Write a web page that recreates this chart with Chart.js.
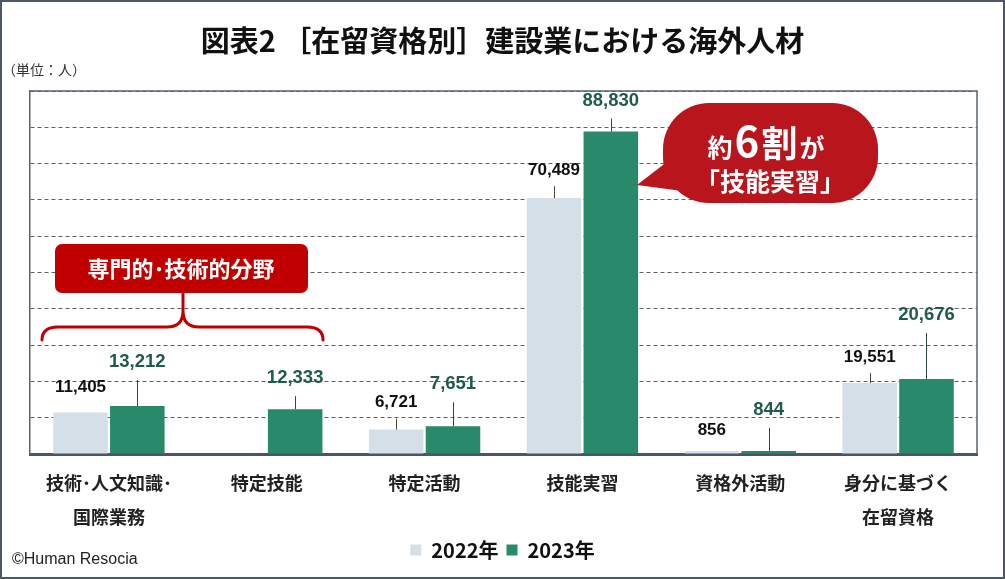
<!DOCTYPE html>
<html lang="ja">
<head>
<meta charset="utf-8">
<script src="https://cdn.jsdelivr.net/npm/chart.js@4.4.1/dist/chart.umd.min.js"></script>
<style>
  html, body { margin: 0; padding: 0; background: #fff; }
  #wrap { width: 1005px; height: 579px; position: relative; }
</style>
</head>
<body>
<div id="wrap"><canvas id="chart"></canvas></div>
<script>
// chart data
const categories = [
  ['技術･人文知識･', '国際業務'],
  '特定技能',
  '特定活動',
  '技能実習',
  '資格外活動',
  ['身分に基づく', '在留資格']
];
const years = ['2022年', '2023年'];
const values2022 = [11405, null, 6721, 70489, 856, 19551];
const values2023 = [13212, 12333, 7651, 88830, 844, 20676];
const yMax = 100000;
const yStep = 10000;

const JP = '"Noto Sans CJK JP", "Noto Sans", sans-serif';
const NUM = '"Liberation Sans", Arial, sans-serif';
const RED = '#c00000';

// how far each value label sits above its bar (px)
const labelLift = [
  [25, 0, 27, 28, 21, 26],
  [44, 31, 42, 31, 41, 64]
];

const decor = {
  id: 'decor',
  afterDatasetsDraw(chart) {
    const ctx = chart.ctx;
    ctx.save();
    ctx.textAlign = 'center';
    ctx.textBaseline = 'middle';
    chart.data.datasets.forEach((ds, i) => {
      const meta = chart.getDatasetMeta(i);
      const green = i === 1;
      meta.data.forEach((bar, j) => {
        const v = ds.data[j];
        if (v == null) return;
        const cy = bar.y - labelLift[i][j];
        const lineTop = cy + (green ? 18 : 16);
        if (bar.y - lineTop > 9.5) {
          ctx.strokeStyle = green ? '#2c4a40' : '#4a4a3a';
          ctx.lineWidth = 1;
          ctx.beginPath();
          ctx.moveTo(Math.round(bar.x) + 0.5, lineTop);
          ctx.lineTo(Math.round(bar.x) + 0.5, bar.y);
          ctx.stroke();
        }
        ctx.font = 'bold ' + (green ? 18.5 : 17) + 'px ' + NUM;
        ctx.fillStyle = green ? '#1f5c48' : '#111';
        ctx.fillText(v.toLocaleString('en-US'), bar.x, cy);
      });
    });
    ctx.restore();
  },
  afterDraw(chart) {
    const ctx = chart.ctx;
    const a = chart.chartArea;
    ctx.save();

    // top and right edge of the plot box
    ctx.strokeStyle = '#5a6472';
    ctx.lineWidth = 1.5;
    ctx.beginPath();
    ctx.moveTo(a.left, a.top);
    ctx.lineTo(a.right, a.top);
    ctx.lineTo(a.right, a.bottom);
    ctx.stroke();

    // outer frame
    ctx.strokeStyle = '#4d5766';
    ctx.lineWidth = 2;
    ctx.strokeRect(1, 1, chart.width - 2, chart.height - 2);

    // unit + credit
    ctx.fillStyle = '#333';
    ctx.textAlign = 'left';
    ctx.textBaseline = 'middle';
    ctx.font = '14px ' + JP;
    ctx.fillText('（単位：人）', 2, 70);
    ctx.fillStyle = '#222';
    ctx.font = '16px ' + NUM;
    ctx.fillText('©Human Resocia', 12, 560);

    // 専門的・技術的分野 box and brace
    ctx.fillStyle = RED;
    ctx.beginPath();
    ctx.roundRect(55, 244, 253, 49, 7);
    ctx.fill();
    ctx.fillStyle = '#fff';
    ctx.textAlign = 'center';
    ctx.font = 'bold 22px ' + JP;
    ctx.fillText('専門的･技術的分野', 181, 269);

    ctx.strokeStyle = RED;
    ctx.lineWidth = 3;
    ctx.lineCap = 'round';
    ctx.beginPath();
    ctx.moveTo(42, 340);
    ctx.quadraticCurveTo(42, 327, 58, 327);
    ctx.lineTo(167, 327);
    ctx.quadraticCurveTo(183, 327, 183, 311);
    ctx.lineTo(183, 293);
    ctx.moveTo(183, 311);
    ctx.quadraticCurveTo(183, 327, 199, 327);
    ctx.lineTo(307, 327);
    ctx.quadraticCurveTo(323, 327, 323, 340);
    ctx.stroke();

    // speech bubble
    ctx.fillStyle = '#b8151c';
    ctx.beginPath();
    ctx.moveTo(637, 185);
    ctx.lineTo(672, 158);
    ctx.lineTo(690, 192);
    ctx.closePath();
    ctx.fill();
    ctx.beginPath();
    ctx.roundRect(663, 103, 215, 100, 46);
    ctx.fill();

    ctx.fillStyle = '#fff';
    const parts = [['約', 25], ['6', 42], ['割', 36], ['が', 25]];
    let total = 0;
    parts.forEach(p => {
      ctx.font = 'bold ' + p[1] + 'px ' + JP;
      p.push(ctx.measureText(p[0]).width);
      total += p[2] + 2;
    });
    let x = 767 - total / 2;
    ctx.textAlign = 'left';
    ctx.textBaseline = 'alphabetic';
    parts.forEach(p => {
      ctx.font = 'bold ' + p[1] + 'px ' + JP;
      ctx.fillText(p[0], x, 157);
      x += p[2] + 2;
    });
    ctx.textAlign = 'center';
    ctx.textBaseline = 'middle';
    ctx.font = 'bold 25px ' + JP;
    ctx.fillText('「技能実習」', 770, 181);

    ctx.restore();
  }
};

const ctx = document.getElementById('chart').getContext('2d');

new Chart(ctx, {
  type: 'bar',
  data: {
    labels: categories,
    datasets: [{
      label: years[0],
      data: values2022,
      backgroundColor: '#d5dfe8',
      borderWidth: 0
    }, {
      label: years[1],
      data: values2023,
      backgroundColor: '#28896b',
      borderWidth: 0
    }]
  },
  options: {
    responsive: true,
    maintainAspectRatio: false,
    animation: false,
    events: [],
    layout: {
      padding: { top: 0, left: 28, right: 28, bottom: 9 }
    },
    datasets: {
      bar: { categoryPercentage: 0.72, barPercentage: 0.96 }
    },
    scales: {
      x: {
        grid: { display: false, drawTicks: false },
        border: { display: true, color: '#4a5568', width: 3 },
        ticks: {
          font: { family: JP, size: 18, weight: 'bold', lineHeight: 1.9 },
          color: '#222',
          padding: 12,
          maxRotation: 0,
          autoSkip: false
        },
        afterFit(scale) { scale.height = 78; }
      },
      y: {
        min: 0,
        max: yMax,
        ticks: { display: false, stepSize: yStep },
        grid: { color: '#5f5f5f', lineWidth: 1, drawTicks: false },
        border: { display: true, color: '#5a6472', width: 1.5, dash: [4, 3] },
        afterFit(scale) { scale.width = 2; }
      }
    },
    plugins: {
      title: {
        display: true,
        text: '図表2 ［在留資格別］建設業における海外人材',
        font: { family: JP, size: 29, weight: 'bold', lineHeight: 1.2 },
        color: '#111',
        padding: { top: 24, bottom: 32.2 }
      },
      legend: {
        position: 'bottom',
        labels: {
          boxWidth: 11,
          boxHeight: 11,
          font: { family: JP, size: 20, weight: 'bold' },
          color: '#111',
          padding: 8
        }
      },
      tooltip: { enabled: false }
    }
  },
  plugins: [decor]
});
</script>
</body>
</html>
